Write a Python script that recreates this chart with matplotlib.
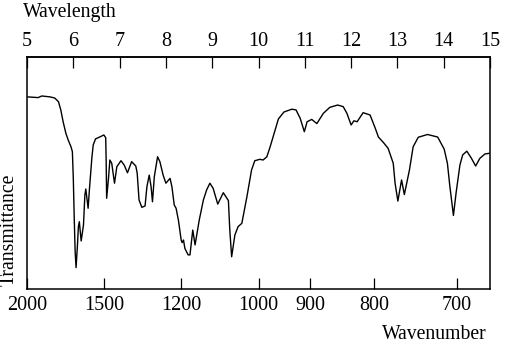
import matplotlib
matplotlib.use("Agg")
import matplotlib.pyplot as plt

plt.rcParams['font.family'] = ['Liberation Serif', 'DejaVu Serif']

# Spectrum trace: wavelength (micrometres) and transmittance (relative, 0-100)
wavelength = [5.02, 5.24, 5.32, 5.50, 5.60, 5.68, 5.73, 5.78, 5.84, 5.89,
              5.95, 5.98, 6.00, 6.02, 6.04, 6.06, 6.09, 6.11, 6.13, 6.15,
              6.17, 6.22, 6.25, 6.27, 6.32, 6.35, 6.40, 6.43, 6.48, 6.58,
              6.66, 6.70, 6.71, 6.72, 6.76, 6.79, 6.83, 6.89, 6.94, 7.03,
              7.10, 7.17, 7.26, 7.35, 7.38, 7.42, 7.48, 7.55, 7.59, 7.64,
              7.68, 7.71, 7.75, 7.82, 7.87, 7.94, 8.00, 8.09, 8.13, 8.18,
              8.22, 8.27, 8.33, 8.35, 8.38, 8.41, 8.48, 8.52, 8.58, 8.63,
              8.72, 8.81, 8.88, 8.95, 9.02, 9.12, 9.24, 9.35, 9.38, 9.42,
              9.49, 9.56, 9.64, 9.75, 9.85, 9.92, 10.03, 10.10, 10.18, 10.25,
              10.43, 10.55, 10.72, 10.81, 10.90, 10.99, 11.05, 11.15, 11.26, 11.40,
              11.54, 11.71, 11.83, 11.91, 12.00, 12.06, 12.13, 12.26, 12.41, 12.52,
              12.59, 12.70, 12.80, 12.91, 12.95, 13.01, 13.09, 13.15, 13.26, 13.34,
              13.45, 13.65, 13.87, 14.01, 14.08, 14.13, 14.21, 14.27, 14.35, 14.41,
              14.50, 14.60, 14.69, 14.78, 14.89, 14.99]
transmittance = [82.8, 82.5, 83.2, 82.8, 82.3, 80.7, 77.2, 72.1, 67.1, 64.2,
                 61.3, 59.2, 47.8, 30.6, 16.1, 9.2, 19.0, 26.9, 29.0, 24.7,
                 20.7, 27.6, 40.5, 43.1, 34.8, 43.4, 56.3, 62.1, 64.7, 65.6,
                 66.4, 65.2, 54.9, 39.1, 47.7, 55.6, 54.2, 45.6, 52.7, 55.3,
                 53.4, 50.1, 54.9, 53.0, 49.9, 38.4, 35.2, 35.8, 44.1, 49.1,
                 44.1, 37.6, 48.4, 57.0, 54.9, 49.1, 45.6, 47.7, 44.1, 36.2,
                 34.8, 29.7, 21.1, 20.0, 21.1, 17.5, 14.7, 14.7, 25.4, 19.0,
                 29.7, 38.4, 42.7, 45.6, 43.4, 36.6, 41.5, 38.1, 25.4, 13.9,
                 23.3, 26.9, 28.3, 39.8, 51.3, 55.3, 55.9, 55.6, 57.0, 61.2,
                 73.3, 76.3, 77.5, 77.2, 73.6, 67.8, 72.1, 73.1, 71.3, 75.7,
                 78.3, 79.3, 78.6, 75.7, 70.7, 72.5, 72.1, 76.0, 75.0, 69.4,
                 65.5, 63.1, 60.6, 54.2, 45.6, 37.9, 47.0, 40.7, 51.3, 61.3,
                 65.4, 66.6, 65.5, 60.3, 54.2, 44.8, 31.7, 41.8, 53.4, 57.8,
                 59.4, 56.3, 53.0, 56.3, 58.2, 58.5]

wavelength_ticks = [5, 6, 7, 8, 9, 10, 11, 12, 13, 14, 15]
wavenumber_ticks = [2000, 1500, 1200, 1000, 900, 800, 700]

fig = plt.figure(figsize=(5.15, 3.54), dpi=100)
ax = fig.add_axes([27 / 515, 1 - 289 / 354, 463 / 515, 232 / 354])

ax.plot(wavelength, transmittance, color='black', lw=1.0,
        solid_joinstyle='round', antialiased=True)
ax.set_xlim(5, 15)
ax.set_ylim(0, 100)
ax.set_yticks([])

for s in ax.spines.values():
    s.set_linewidth(1.1)

# bottom: wavenumber ticks placed on the wavelength scale
ax.set_xticks([1e4 / w for w in wavenumber_ticks])
ax.set_xticklabels([str(w) for w in wavenumber_ticks])
ax.tick_params(axis='x', direction='in', length=8, width=0.9,
               labelsize=14.5, pad=5)

# top: wavelength ticks
sec = ax.secondary_xaxis('top')
sec.set_xticks(wavelength_ticks)
sec.set_xticklabels([str(w) for w in wavelength_ticks])
sec.tick_params(axis='x', direction='in', length=8, width=0.9,
                labelsize=14.5, pad=4)
sec.spines['top'].set_linewidth(1.1)

fig.text(23 / 515, 1 - 17.5 / 354, 'Wavelength', ha='left', va='baseline', fontsize=14.2)
fig.text(487 / 515, 1 - 339 / 354, 'Wavenumber', ha='right', va='baseline', fontsize=14.2)
fig.text(9 / 515, 1 - 230 / 354, 'Transmittance', rotation=90,
         ha='center', va='center', fontsize=14.2)

fig.savefig('out.png', dpi=100)
